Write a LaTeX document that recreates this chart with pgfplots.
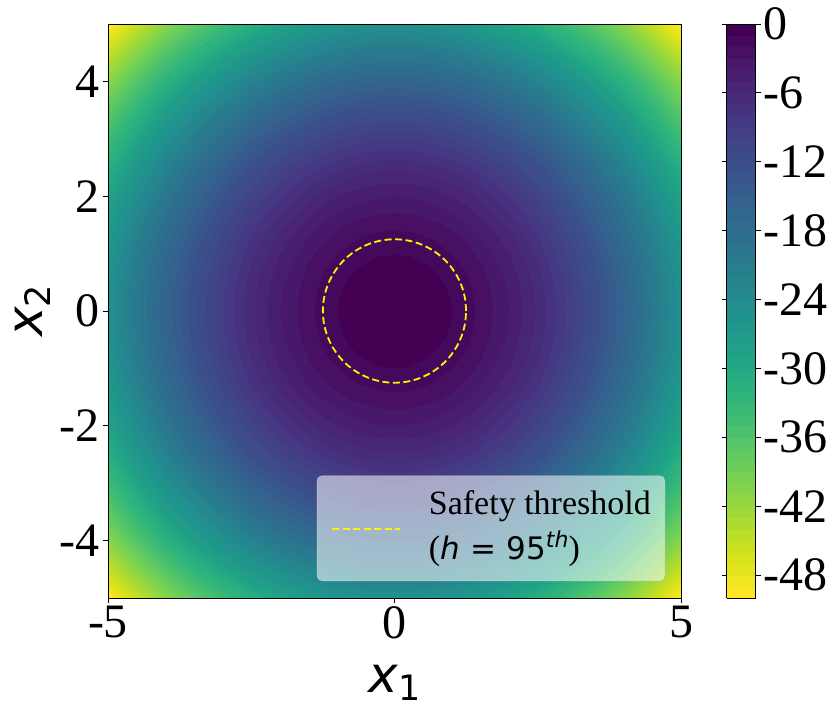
\documentclass[border=0pt]{standalone}
\usepackage{fontspec}
\setmainfont{Liberation Serif}
\newfontfamily\dejavu{DejaVu Sans}
\usepackage{pgfplots}
\pgfplotsset{compat=1.18}
\pgfplotsset{
  colormap/viridis,
  colormap={viridisrev}{indices of colormap={\pgfplotscolormaplastindexof{viridis},...,0 of viridis}},
}
\begin{document}
\begin{tikzpicture}
\begin{axis}[
  name=main,
  view={0}{90},
  scale only axis,
  width=573pt, height=574pt,
  xmin=-5, xmax=5, ymin=-5, ymax=5,
  xtick={-5,0,5}, xticklabels={-5,0,5},
  ytick={-4,-2,0,2,4}, yticklabels={-4,-2,0,2,4},
  tick pos=left, tick align=outside,
  major tick length=5pt,
  tick style={black, line width=0.9pt},
  axis line style={black, line width=0.9pt},
  axis on top,
  ticklabel style={font=\fontsize{48}{48}\selectfont, inner sep=0pt},
  xticklabel style={yshift=-3pt},
  yticklabel style={xshift=-3pt},
  xlabel={{\dejavu\itshape x}\raisebox{-8pt}{\fontsize{35}{35}\selectfont\dejavu 1}},
  ylabel={{\dejavu\itshape x}\raisebox{-8pt}{\fontsize{35}{35}\selectfont\dejavu 2}},
  xlabel style={font=\fontsize{50}{50}\selectfont, at={(axis description cs:0.5,0)}, anchor=base, yshift=-94pt},
  ylabel style={font=\fontsize{50}{50}\selectfont, at={(axis description cs:0,0.5)}, anchor=base, yshift=65pt},
  colormap name=viridisrev,
  point meta min=-50, point meta max=0,
  colorbar,
  colorbar style={
    at={(parent axis.north east)}, anchor=north west, xshift=37pt,
    scale only axis, width=29pt, height=574pt,
    ymin=-50, ymax=0,
    ytick={0,-6,-12,-18,-24,-30,-36,-42,-48},
    yticklabels={0,-6,-12,-18,-24,-30,-36,-42,-48},
    yticklabel style={font=\fontsize{48}{48}\selectfont, inner sep=0pt, xshift=3pt},
    tick align=outside, major tick length=5pt,
    tick style={black, line width=0.9pt},
    axis line style={black, line width=0.9pt},
  },
  legend style={
    at={(1,0)}, anchor=south east, xshift=-16pt, yshift=17pt,
    fill=white, fill opacity=0.55, text opacity=1,
    draw=gray!40, rounded corners=5pt,
    inner xsep=14pt, inner ysep=7.5pt,
    font=\fontsize{34}{45}\selectfont,
    column sep=28pt,
    nodes={inner sep=0pt, text depth=},
  },
  legend cell align=left,
  legend image code/.code={\draw[#1] (0pt,-1pt) -- (68pt,-1pt);},
]

% f(x1,x2) = -(x1^2+x2^2), finer grid near the centre
\addplot3[contour filled={number=50}, mesh/rows=27, mesh/cols=27, forget plot] coordinates {
(-5,-5,-50) (-4.5,-5,-45.25) (-4,-5,-41) (-3.5,-5,-37.25) (-3,-5,-34) (-2.5,-5,-31.25) (-2,-5,-29) (-1.5,-5,-27.25) (-1.25,-5,-26.5625) (-1,-5,-26) (-0.75,-5,-25.5625) (-0.5,-5,-25.25) (-0.25,-5,-25.0625) (0,-5,-25) (0.25,-5,-25.0625) (0.5,-5,-25.25) (0.75,-5,-25.5625) (1,-5,-26) (1.25,-5,-26.5625) (1.5,-5,-27.25) (2,-5,-29) (2.5,-5,-31.25) (3,-5,-34) (3.5,-5,-37.25) (4,-5,-41) (4.5,-5,-45.25) (5,-5,-50)
(-5,-4.5,-45.25) (-4.5,-4.5,-40.5) (-4,-4.5,-36.25) (-3.5,-4.5,-32.5) (-3,-4.5,-29.25) (-2.5,-4.5,-26.5) (-2,-4.5,-24.25) (-1.5,-4.5,-22.5) (-1.25,-4.5,-21.8125) (-1,-4.5,-21.25) (-0.75,-4.5,-20.8125) (-0.5,-4.5,-20.5) (-0.25,-4.5,-20.3125) (0,-4.5,-20.25) (0.25,-4.5,-20.3125) (0.5,-4.5,-20.5) (0.75,-4.5,-20.8125) (1,-4.5,-21.25) (1.25,-4.5,-21.8125) (1.5,-4.5,-22.5) (2,-4.5,-24.25) (2.5,-4.5,-26.5) (3,-4.5,-29.25) (3.5,-4.5,-32.5) (4,-4.5,-36.25) (4.5,-4.5,-40.5) (5,-4.5,-45.25)
(-5,-4,-41) (-4.5,-4,-36.25) (-4,-4,-32) (-3.5,-4,-28.25) (-3,-4,-25) (-2.5,-4,-22.25) (-2,-4,-20) (-1.5,-4,-18.25) (-1.25,-4,-17.5625) (-1,-4,-17) (-0.75,-4,-16.5625) (-0.5,-4,-16.25) (-0.25,-4,-16.0625) (0,-4,-16) (0.25,-4,-16.0625) (0.5,-4,-16.25) (0.75,-4,-16.5625) (1,-4,-17) (1.25,-4,-17.5625) (1.5,-4,-18.25) (2,-4,-20) (2.5,-4,-22.25) (3,-4,-25) (3.5,-4,-28.25) (4,-4,-32) (4.5,-4,-36.25) (5,-4,-41)
(-5,-3.5,-37.25) (-4.5,-3.5,-32.5) (-4,-3.5,-28.25) (-3.5,-3.5,-24.5) (-3,-3.5,-21.25) (-2.5,-3.5,-18.5) (-2,-3.5,-16.25) (-1.5,-3.5,-14.5) (-1.25,-3.5,-13.8125) (-1,-3.5,-13.25) (-0.75,-3.5,-12.8125) (-0.5,-3.5,-12.5) (-0.25,-3.5,-12.3125) (0,-3.5,-12.25) (0.25,-3.5,-12.3125) (0.5,-3.5,-12.5) (0.75,-3.5,-12.8125) (1,-3.5,-13.25) (1.25,-3.5,-13.8125) (1.5,-3.5,-14.5) (2,-3.5,-16.25) (2.5,-3.5,-18.5) (3,-3.5,-21.25) (3.5,-3.5,-24.5) (4,-3.5,-28.25) (4.5,-3.5,-32.5) (5,-3.5,-37.25)
(-5,-3,-34) (-4.5,-3,-29.25) (-4,-3,-25) (-3.5,-3,-21.25) (-3,-3,-18) (-2.5,-3,-15.25) (-2,-3,-13) (-1.5,-3,-11.25) (-1.25,-3,-10.5625) (-1,-3,-10) (-0.75,-3,-9.5625) (-0.5,-3,-9.25) (-0.25,-3,-9.0625) (0,-3,-9) (0.25,-3,-9.0625) (0.5,-3,-9.25) (0.75,-3,-9.5625) (1,-3,-10) (1.25,-3,-10.5625) (1.5,-3,-11.25) (2,-3,-13) (2.5,-3,-15.25) (3,-3,-18) (3.5,-3,-21.25) (4,-3,-25) (4.5,-3,-29.25) (5,-3,-34)
(-5,-2.5,-31.25) (-4.5,-2.5,-26.5) (-4,-2.5,-22.25) (-3.5,-2.5,-18.5) (-3,-2.5,-15.25) (-2.5,-2.5,-12.5) (-2,-2.5,-10.25) (-1.5,-2.5,-8.5) (-1.25,-2.5,-7.8125) (-1,-2.5,-7.25) (-0.75,-2.5,-6.8125) (-0.5,-2.5,-6.5) (-0.25,-2.5,-6.3125) (0,-2.5,-6.25) (0.25,-2.5,-6.3125) (0.5,-2.5,-6.5) (0.75,-2.5,-6.8125) (1,-2.5,-7.25) (1.25,-2.5,-7.8125) (1.5,-2.5,-8.5) (2,-2.5,-10.25) (2.5,-2.5,-12.5) (3,-2.5,-15.25) (3.5,-2.5,-18.5) (4,-2.5,-22.25) (4.5,-2.5,-26.5) (5,-2.5,-31.25)
(-5,-2,-29) (-4.5,-2,-24.25) (-4,-2,-20) (-3.5,-2,-16.25) (-3,-2,-13) (-2.5,-2,-10.25) (-2,-2,-8) (-1.5,-2,-6.25) (-1.25,-2,-5.5625) (-1,-2,-5) (-0.75,-2,-4.5625) (-0.5,-2,-4.25) (-0.25,-2,-4.0625) (0,-2,-4) (0.25,-2,-4.0625) (0.5,-2,-4.25) (0.75,-2,-4.5625) (1,-2,-5) (1.25,-2,-5.5625) (1.5,-2,-6.25) (2,-2,-8) (2.5,-2,-10.25) (3,-2,-13) (3.5,-2,-16.25) (4,-2,-20) (4.5,-2,-24.25) (5,-2,-29)
(-5,-1.5,-27.25) (-4.5,-1.5,-22.5) (-4,-1.5,-18.25) (-3.5,-1.5,-14.5) (-3,-1.5,-11.25) (-2.5,-1.5,-8.5) (-2,-1.5,-6.25) (-1.5,-1.5,-4.5) (-1.25,-1.5,-3.8125) (-1,-1.5,-3.25) (-0.75,-1.5,-2.8125) (-0.5,-1.5,-2.5) (-0.25,-1.5,-2.3125) (0,-1.5,-2.25) (0.25,-1.5,-2.3125) (0.5,-1.5,-2.5) (0.75,-1.5,-2.8125) (1,-1.5,-3.25) (1.25,-1.5,-3.8125) (1.5,-1.5,-4.5) (2,-1.5,-6.25) (2.5,-1.5,-8.5) (3,-1.5,-11.25) (3.5,-1.5,-14.5) (4,-1.5,-18.25) (4.5,-1.5,-22.5) (5,-1.5,-27.25)
(-5,-1.25,-26.5625) (-4.5,-1.25,-21.8125) (-4,-1.25,-17.5625) (-3.5,-1.25,-13.8125) (-3,-1.25,-10.5625) (-2.5,-1.25,-7.8125) (-2,-1.25,-5.5625) (-1.5,-1.25,-3.8125) (-1.25,-1.25,-3.125) (-1,-1.25,-2.5625) (-0.75,-1.25,-2.125) (-0.5,-1.25,-1.8125) (-0.25,-1.25,-1.625) (0,-1.25,-1.5625) (0.25,-1.25,-1.625) (0.5,-1.25,-1.8125) (0.75,-1.25,-2.125) (1,-1.25,-2.5625) (1.25,-1.25,-3.125) (1.5,-1.25,-3.8125) (2,-1.25,-5.5625) (2.5,-1.25,-7.8125) (3,-1.25,-10.5625) (3.5,-1.25,-13.8125) (4,-1.25,-17.5625) (4.5,-1.25,-21.8125) (5,-1.25,-26.5625)
(-5,-1,-26) (-4.5,-1,-21.25) (-4,-1,-17) (-3.5,-1,-13.25) (-3,-1,-10) (-2.5,-1,-7.25) (-2,-1,-5) (-1.5,-1,-3.25) (-1.25,-1,-2.5625) (-1,-1,-2) (-0.75,-1,-1.5625) (-0.5,-1,-1.25) (-0.25,-1,-1.0625) (0,-1,-1) (0.25,-1,-1.0625) (0.5,-1,-1.25) (0.75,-1,-1.5625) (1,-1,-2) (1.25,-1,-2.5625) (1.5,-1,-3.25) (2,-1,-5) (2.5,-1,-7.25) (3,-1,-10) (3.5,-1,-13.25) (4,-1,-17) (4.5,-1,-21.25) (5,-1,-26)
(-5,-0.75,-25.5625) (-4.5,-0.75,-20.8125) (-4,-0.75,-16.5625) (-3.5,-0.75,-12.8125) (-3,-0.75,-9.5625) (-2.5,-0.75,-6.8125) (-2,-0.75,-4.5625) (-1.5,-0.75,-2.8125) (-1.25,-0.75,-2.125) (-1,-0.75,-1.5625) (-0.75,-0.75,-1.125) (-0.5,-0.75,-0.8125) (-0.25,-0.75,-0.625) (0,-0.75,-0.5625) (0.25,-0.75,-0.625) (0.5,-0.75,-0.8125) (0.75,-0.75,-1.125) (1,-0.75,-1.5625) (1.25,-0.75,-2.125) (1.5,-0.75,-2.8125) (2,-0.75,-4.5625) (2.5,-0.75,-6.8125) (3,-0.75,-9.5625) (3.5,-0.75,-12.8125) (4,-0.75,-16.5625) (4.5,-0.75,-20.8125) (5,-0.75,-25.5625)
(-5,-0.5,-25.25) (-4.5,-0.5,-20.5) (-4,-0.5,-16.25) (-3.5,-0.5,-12.5) (-3,-0.5,-9.25) (-2.5,-0.5,-6.5) (-2,-0.5,-4.25) (-1.5,-0.5,-2.5) (-1.25,-0.5,-1.8125) (-1,-0.5,-1.25) (-0.75,-0.5,-0.8125) (-0.5,-0.5,-0.5) (-0.25,-0.5,-0.3125) (0,-0.5,-0.25) (0.25,-0.5,-0.3125) (0.5,-0.5,-0.5) (0.75,-0.5,-0.8125) (1,-0.5,-1.25) (1.25,-0.5,-1.8125) (1.5,-0.5,-2.5) (2,-0.5,-4.25) (2.5,-0.5,-6.5) (3,-0.5,-9.25) (3.5,-0.5,-12.5) (4,-0.5,-16.25) (4.5,-0.5,-20.5) (5,-0.5,-25.25)
(-5,-0.25,-25.0625) (-4.5,-0.25,-20.3125) (-4,-0.25,-16.0625) (-3.5,-0.25,-12.3125) (-3,-0.25,-9.0625) (-2.5,-0.25,-6.3125) (-2,-0.25,-4.0625) (-1.5,-0.25,-2.3125) (-1.25,-0.25,-1.625) (-1,-0.25,-1.0625) (-0.75,-0.25,-0.625) (-0.5,-0.25,-0.3125) (-0.25,-0.25,-0.125) (0,-0.25,-0.0625) (0.25,-0.25,-0.125) (0.5,-0.25,-0.3125) (0.75,-0.25,-0.625) (1,-0.25,-1.0625) (1.25,-0.25,-1.625) (1.5,-0.25,-2.3125) (2,-0.25,-4.0625) (2.5,-0.25,-6.3125) (3,-0.25,-9.0625) (3.5,-0.25,-12.3125) (4,-0.25,-16.0625) (4.5,-0.25,-20.3125) (5,-0.25,-25.0625)
(-5,0,-25) (-4.5,0,-20.25) (-4,0,-16) (-3.5,0,-12.25) (-3,0,-9) (-2.5,0,-6.25) (-2,0,-4) (-1.5,0,-2.25) (-1.25,0,-1.5625) (-1,0,-1) (-0.75,0,-0.5625) (-0.5,0,-0.25) (-0.25,0,-0.0625) (0,0,0) (0.25,0,-0.0625) (0.5,0,-0.25) (0.75,0,-0.5625) (1,0,-1) (1.25,0,-1.5625) (1.5,0,-2.25) (2,0,-4) (2.5,0,-6.25) (3,0,-9) (3.5,0,-12.25) (4,0,-16) (4.5,0,-20.25) (5,0,-25)
(-5,0.25,-25.0625) (-4.5,0.25,-20.3125) (-4,0.25,-16.0625) (-3.5,0.25,-12.3125) (-3,0.25,-9.0625) (-2.5,0.25,-6.3125) (-2,0.25,-4.0625) (-1.5,0.25,-2.3125) (-1.25,0.25,-1.625) (-1,0.25,-1.0625) (-0.75,0.25,-0.625) (-0.5,0.25,-0.3125) (-0.25,0.25,-0.125) (0,0.25,-0.0625) (0.25,0.25,-0.125) (0.5,0.25,-0.3125) (0.75,0.25,-0.625) (1,0.25,-1.0625) (1.25,0.25,-1.625) (1.5,0.25,-2.3125) (2,0.25,-4.0625) (2.5,0.25,-6.3125) (3,0.25,-9.0625) (3.5,0.25,-12.3125) (4,0.25,-16.0625) (4.5,0.25,-20.3125) (5,0.25,-25.0625)
(-5,0.5,-25.25) (-4.5,0.5,-20.5) (-4,0.5,-16.25) (-3.5,0.5,-12.5) (-3,0.5,-9.25) (-2.5,0.5,-6.5) (-2,0.5,-4.25) (-1.5,0.5,-2.5) (-1.25,0.5,-1.8125) (-1,0.5,-1.25) (-0.75,0.5,-0.8125) (-0.5,0.5,-0.5) (-0.25,0.5,-0.3125) (0,0.5,-0.25) (0.25,0.5,-0.3125) (0.5,0.5,-0.5) (0.75,0.5,-0.8125) (1,0.5,-1.25) (1.25,0.5,-1.8125) (1.5,0.5,-2.5) (2,0.5,-4.25) (2.5,0.5,-6.5) (3,0.5,-9.25) (3.5,0.5,-12.5) (4,0.5,-16.25) (4.5,0.5,-20.5) (5,0.5,-25.25)
(-5,0.75,-25.5625) (-4.5,0.75,-20.8125) (-4,0.75,-16.5625) (-3.5,0.75,-12.8125) (-3,0.75,-9.5625) (-2.5,0.75,-6.8125) (-2,0.75,-4.5625) (-1.5,0.75,-2.8125) (-1.25,0.75,-2.125) (-1,0.75,-1.5625) (-0.75,0.75,-1.125) (-0.5,0.75,-0.8125) (-0.25,0.75,-0.625) (0,0.75,-0.5625) (0.25,0.75,-0.625) (0.5,0.75,-0.8125) (0.75,0.75,-1.125) (1,0.75,-1.5625) (1.25,0.75,-2.125) (1.5,0.75,-2.8125) (2,0.75,-4.5625) (2.5,0.75,-6.8125) (3,0.75,-9.5625) (3.5,0.75,-12.8125) (4,0.75,-16.5625) (4.5,0.75,-20.8125) (5,0.75,-25.5625)
(-5,1,-26) (-4.5,1,-21.25) (-4,1,-17) (-3.5,1,-13.25) (-3,1,-10) (-2.5,1,-7.25) (-2,1,-5) (-1.5,1,-3.25) (-1.25,1,-2.5625) (-1,1,-2) (-0.75,1,-1.5625) (-0.5,1,-1.25) (-0.25,1,-1.0625) (0,1,-1) (0.25,1,-1.0625) (0.5,1,-1.25) (0.75,1,-1.5625) (1,1,-2) (1.25,1,-2.5625) (1.5,1,-3.25) (2,1,-5) (2.5,1,-7.25) (3,1,-10) (3.5,1,-13.25) (4,1,-17) (4.5,1,-21.25) (5,1,-26)
(-5,1.25,-26.5625) (-4.5,1.25,-21.8125) (-4,1.25,-17.5625) (-3.5,1.25,-13.8125) (-3,1.25,-10.5625) (-2.5,1.25,-7.8125) (-2,1.25,-5.5625) (-1.5,1.25,-3.8125) (-1.25,1.25,-3.125) (-1,1.25,-2.5625) (-0.75,1.25,-2.125) (-0.5,1.25,-1.8125) (-0.25,1.25,-1.625) (0,1.25,-1.5625) (0.25,1.25,-1.625) (0.5,1.25,-1.8125) (0.75,1.25,-2.125) (1,1.25,-2.5625) (1.25,1.25,-3.125) (1.5,1.25,-3.8125) (2,1.25,-5.5625) (2.5,1.25,-7.8125) (3,1.25,-10.5625) (3.5,1.25,-13.8125) (4,1.25,-17.5625) (4.5,1.25,-21.8125) (5,1.25,-26.5625)
(-5,1.5,-27.25) (-4.5,1.5,-22.5) (-4,1.5,-18.25) (-3.5,1.5,-14.5) (-3,1.5,-11.25) (-2.5,1.5,-8.5) (-2,1.5,-6.25) (-1.5,1.5,-4.5) (-1.25,1.5,-3.8125) (-1,1.5,-3.25) (-0.75,1.5,-2.8125) (-0.5,1.5,-2.5) (-0.25,1.5,-2.3125) (0,1.5,-2.25) (0.25,1.5,-2.3125) (0.5,1.5,-2.5) (0.75,1.5,-2.8125) (1,1.5,-3.25) (1.25,1.5,-3.8125) (1.5,1.5,-4.5) (2,1.5,-6.25) (2.5,1.5,-8.5) (3,1.5,-11.25) (3.5,1.5,-14.5) (4,1.5,-18.25) (4.5,1.5,-22.5) (5,1.5,-27.25)
(-5,2,-29) (-4.5,2,-24.25) (-4,2,-20) (-3.5,2,-16.25) (-3,2,-13) (-2.5,2,-10.25) (-2,2,-8) (-1.5,2,-6.25) (-1.25,2,-5.5625) (-1,2,-5) (-0.75,2,-4.5625) (-0.5,2,-4.25) (-0.25,2,-4.0625) (0,2,-4) (0.25,2,-4.0625) (0.5,2,-4.25) (0.75,2,-4.5625) (1,2,-5) (1.25,2,-5.5625) (1.5,2,-6.25) (2,2,-8) (2.5,2,-10.25) (3,2,-13) (3.5,2,-16.25) (4,2,-20) (4.5,2,-24.25) (5,2,-29)
(-5,2.5,-31.25) (-4.5,2.5,-26.5) (-4,2.5,-22.25) (-3.5,2.5,-18.5) (-3,2.5,-15.25) (-2.5,2.5,-12.5) (-2,2.5,-10.25) (-1.5,2.5,-8.5) (-1.25,2.5,-7.8125) (-1,2.5,-7.25) (-0.75,2.5,-6.8125) (-0.5,2.5,-6.5) (-0.25,2.5,-6.3125) (0,2.5,-6.25) (0.25,2.5,-6.3125) (0.5,2.5,-6.5) (0.75,2.5,-6.8125) (1,2.5,-7.25) (1.25,2.5,-7.8125) (1.5,2.5,-8.5) (2,2.5,-10.25) (2.5,2.5,-12.5) (3,2.5,-15.25) (3.5,2.5,-18.5) (4,2.5,-22.25) (4.5,2.5,-26.5) (5,2.5,-31.25)
(-5,3,-34) (-4.5,3,-29.25) (-4,3,-25) (-3.5,3,-21.25) (-3,3,-18) (-2.5,3,-15.25) (-2,3,-13) (-1.5,3,-11.25) (-1.25,3,-10.5625) (-1,3,-10) (-0.75,3,-9.5625) (-0.5,3,-9.25) (-0.25,3,-9.0625) (0,3,-9) (0.25,3,-9.0625) (0.5,3,-9.25) (0.75,3,-9.5625) (1,3,-10) (1.25,3,-10.5625) (1.5,3,-11.25) (2,3,-13) (2.5,3,-15.25) (3,3,-18) (3.5,3,-21.25) (4,3,-25) (4.5,3,-29.25) (5,3,-34)
(-5,3.5,-37.25) (-4.5,3.5,-32.5) (-4,3.5,-28.25) (-3.5,3.5,-24.5) (-3,3.5,-21.25) (-2.5,3.5,-18.5) (-2,3.5,-16.25) (-1.5,3.5,-14.5) (-1.25,3.5,-13.8125) (-1,3.5,-13.25) (-0.75,3.5,-12.8125) (-0.5,3.5,-12.5) (-0.25,3.5,-12.3125) (0,3.5,-12.25) (0.25,3.5,-12.3125) (0.5,3.5,-12.5) (0.75,3.5,-12.8125) (1,3.5,-13.25) (1.25,3.5,-13.8125) (1.5,3.5,-14.5) (2,3.5,-16.25) (2.5,3.5,-18.5) (3,3.5,-21.25) (3.5,3.5,-24.5) (4,3.5,-28.25) (4.5,3.5,-32.5) (5,3.5,-37.25)
(-5,4,-41) (-4.5,4,-36.25) (-4,4,-32) (-3.5,4,-28.25) (-3,4,-25) (-2.5,4,-22.25) (-2,4,-20) (-1.5,4,-18.25) (-1.25,4,-17.5625) (-1,4,-17) (-0.75,4,-16.5625) (-0.5,4,-16.25) (-0.25,4,-16.0625) (0,4,-16) (0.25,4,-16.0625) (0.5,4,-16.25) (0.75,4,-16.5625) (1,4,-17) (1.25,4,-17.5625) (1.5,4,-18.25) (2,4,-20) (2.5,4,-22.25) (3,4,-25) (3.5,4,-28.25) (4,4,-32) (4.5,4,-36.25) (5,4,-41)
(-5,4.5,-45.25) (-4.5,4.5,-40.5) (-4,4.5,-36.25) (-3.5,4.5,-32.5) (-3,4.5,-29.25) (-2.5,4.5,-26.5) (-2,4.5,-24.25) (-1.5,4.5,-22.5) (-1.25,4.5,-21.8125) (-1,4.5,-21.25) (-0.75,4.5,-20.8125) (-0.5,4.5,-20.5) (-0.25,4.5,-20.3125) (0,4.5,-20.25) (0.25,4.5,-20.3125) (0.5,4.5,-20.5) (0.75,4.5,-20.8125) (1,4.5,-21.25) (1.25,4.5,-21.8125) (1.5,4.5,-22.5) (2,4.5,-24.25) (2.5,4.5,-26.5) (3,4.5,-29.25) (3.5,4.5,-32.5) (4,4.5,-36.25) (4.5,4.5,-40.5) (5,4.5,-45.25)
(-5,5,-50) (-4.5,5,-45.25) (-4,5,-41) (-3.5,5,-37.25) (-3,5,-34) (-2.5,5,-31.25) (-2,5,-29) (-1.5,5,-27.25) (-1.25,5,-26.5625) (-1,5,-26) (-0.75,5,-25.5625) (-0.5,5,-25.25) (-0.25,5,-25.0625) (0,5,-25) (0.25,5,-25.0625) (0.5,5,-25.25) (0.75,5,-25.5625) (1,5,-26) (1.25,5,-26.5625) (1.5,5,-27.25) (2,5,-29) (2.5,5,-31.25) (3,5,-34) (3.5,5,-37.25) (4,5,-41) (4.5,5,-45.25) (5,5,-50)
};

% safety threshold, radius 1.25
\addplot3[draw=yellow, line width=1.8pt, dash pattern=on 7pt off 3.5pt, smooth, no markers] coordinates {
(1.25,0,0) (1.2310,0.2171,0) (1.1746,0.4275,0) (1.0825,0.625,0) (0.9576,0.8035,0) (0.8035,0.9576,0)
(0.625,1.0825,0) (0.4275,1.1746,0) (0.2171,1.2310,0) (0,1.25,0) (-0.2171,1.2310,0) (-0.4275,1.1746,0)
(-0.625,1.0825,0) (-0.8035,0.9576,0) (-0.9576,0.8035,0) (-1.0825,0.625,0) (-1.1746,0.4275,0) (-1.2310,0.2171,0)
(-1.25,0,0) (-1.2310,-0.2171,0) (-1.1746,-0.4275,0) (-1.0825,-0.625,0) (-0.9576,-0.8035,0) (-0.8035,-0.9576,0)
(-0.625,-1.0825,0) (-0.4275,-1.1746,0) (-0.2171,-1.2310,0) (0,-1.25,0) (0.2171,-1.2310,0) (0.4275,-1.1746,0)
(0.625,-1.0825,0) (0.8035,-0.9576,0) (0.9576,-0.8035,0) (1.0825,-0.625,0) (1.1746,-0.4275,0) (1.2310,-0.2171,0)
(1.25,0,0)
};
\addlegendentry{\begin{tabular}{@{}l@{}}Safety threshold\\({\fontsize{31}{31}\selectfont\dejavu\itshape h\upshape\,\,=\,\,95\raisebox{12pt}{\fontsize{22}{22}\selectfont\itshape th}})\end{tabular}}

\end{axis}
\pgfresetboundingbox
\path[use as bounding box] ([shift={(-108pt,-112pt)}]main.south west) rectangle ([shift={(149pt,24pt)}]main.north east);
\end{tikzpicture}
\end{document}
